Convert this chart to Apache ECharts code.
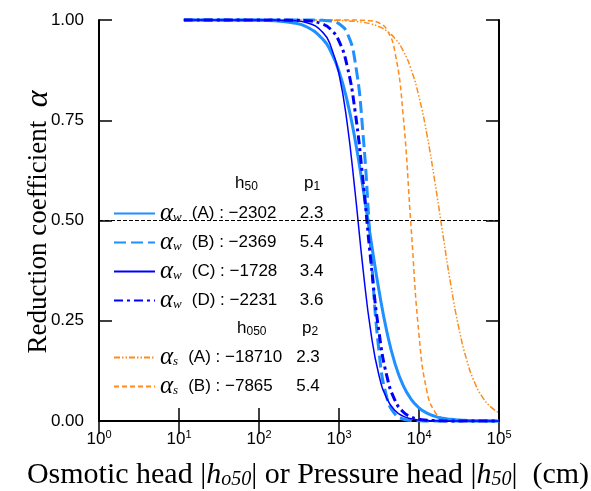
<!DOCTYPE html>
<html>
<head>
<meta charset="utf-8">
<script src="https://cdn.jsdelivr.net/npm/echarts@6/dist/echarts.min.js"></script>
<style>
  html, body { margin: 0; padding: 0; background: #fff; }
  #container { width: 591px; height: 491px; }
</style>
</head>
<body>
<div id="container"></div>
<script>
// 横轴: 水头 |h| (cm)
var heads = [11.5, 100, 158, 251, 398, 631, 794, 1000, 1259, 1585, 1995, 2512, 3162, 3981,
  5012, 6310, 7943, 10000, 12589, 15849, 19953, 25119, 31623, 39811, 50119, 63096, 79433, 100000];

// 各曲线 α 值
var alphaWA = [1.0000, 0.9993, 0.9979, 0.9939, 0.9826, 0.9516, 0.9204, 0.8719, 0.8004, 0.7024, 0.5816, 0.4500, 0.3252, 0.2210,
  0.1432, 0.0896, 0.0548, 0.0330, 0.0197, 0.0117, 0.0069, 0.0041, 0.0024, 0.0014, 0.0008, 0.0005, 0.0003, 0.0002];
var alphaWB = [1, 1, 1, 1, 0.9999, 0.9992, 0.9973, 0.9906, 0.9682, 0.8977, 0.7166, 0.4217, 0.1738, 0.0572,
  0.0172, 0.0050, 0.0015, 0.0004, 0.0001, 0, 0, 0, 0, 0, 0, 0, 0, 0];
var alphaWC = [1, 0.9999, 0.9997, 0.9986, 0.9932, 0.9685, 0.9335, 0.8652, 0.7458, 0.5729, 0.3801, 0.2189, 0.1135, 0.0553,
  0.0261, 0.0121, 0.0056, 0.0026, 0.0012, 0.0005, 0.0002, 0.0001, 0, 0, 0, 0, 0, 0];
var alphaWD = [1, 1, 0.9999, 0.9996, 0.9980, 0.9895, 0.9763, 0.9473, 0.8870, 0.7740, 0.5992, 0.3949, 0.2217, 0.1106,
  0.0515, 0.0231, 0.0102, 0.0045, 0.0020, 0.0009, 0.0004, 0.0002, 0.0001, 0, 0, 0, 0, 0];
var alphaSA = [1, 1, 1, 1, 0.9999, 0.9996, 0.9993, 0.9988, 0.9980, 0.9966, 0.9942, 0.9902, 0.9835, 0.9723,
  0.9539, 0.9242, 0.8777, 0.8087, 0.7134, 0.5944, 0.4632, 0.3369, 0.2303, 0.1498, 0.0940, 0.0576, 0.0347, 0.0207];
var alphaSB = [1, 1, 1, 1, 1, 1, 1, 1, 1, 0.9998, 0.9994, 0.9979, 0.9928, 0.9753,
  0.9194, 0.7668, 0.4866, 0.2147, 0.0731, 0.0222, 0.0065, 0.0019, 0.0005, 0.0002, 0, 0, 0, 0];

// 图例文字
var seriesNames = ['wA', 'wB', 'wC', 'wD', 'sA', 'sB'];
var legendSub = ['w', 'w', 'w', 'w', 's', 's'];
var legendCase = ['(A) : −2302', '(B) : −2369', '(C) : −1728', '(D) : −2231', '(A) : −18710', '(B) : −7865'];
var legendP = ['2.3', '5.4', '3.4', '3.6', '2.3', '5.4'];

var yTicks = [0, 0.25, 0.5, 0.75, 1];
var refLine = 0.5;

var dom = document.getElementById('container');
var myChart = echarts.init(dom);

var BLUE_L = '#1e90ff';
var BLUE = '#0000ff';
var ORANGE = '#ff8c1a';

function pairs(arr) {
    return heads.map(function (h, i) { return [h, arr[i]]; });
}

function lineSeries(name, data, color, width, type) {
    return {
        name: name,
        type: 'line',
        data: pairs(data),
        symbol: 'none',
        smooth: 0.5,
        clip: false,
        lineStyle: { color: color, width: width, type: type },
        itemStyle: { color: color }
    };
}

var legendRich = {
    al: { fontFamily: 'Liberation Serif', fontStyle: 'italic', fontSize: 25, color: '#000', lineHeight: 22 },
    sub: { fontFamily: 'Liberation Serif', fontStyle: 'italic', fontSize: 13, color: '#000', padding: [9, 0, 0, 0], lineHeight: 22 },
    nm: { fontFamily: 'Liberation Sans', fontSize: 17, color: '#000', width: 108, padding: [0, 0, 0, 10], lineHeight: 22 },
    pv: { fontFamily: 'Liberation Sans', fontSize: 17, color: '#000', lineHeight: 22 }
};

function legendFmt(name) {
    var i = seriesNames.indexOf(name);
    return '{al|α}{sub|' + legendSub[i] + '}{nm|' + legendCase[i] + '}{pv|' + legendP[i] + '}';
}

function baseLegend(data, top) {
    return {
        data: data,
        orient: 'vertical',
        left: 108,
        top: top,
        itemWidth: 41,
        itemHeight: 14,
        itemGap: 4,
        selectedMode: false,
        itemStyle: { opacity: 0 },
        formatter: legendFmt,
        textStyle: { rich: legendRich }
    };
}

var headRich = {
    s: { fontFamily: 'Liberation Sans', fontSize: 12, color: '#000', padding: [8, 0, 0, 0] }
};

option = {
    animation: false,
    grid: { left: 99, right: 92, top: 20, bottom: 70 },
    legend: [
        baseLegend(['wA', 'wB', 'wC', 'wD'], 196),
        baseLegend(['sA', 'sB'], 340)
    ],
    xAxis: [
        {
            type: 'log', logBase: 10, min: 1, max: 100000, position: 'bottom',
            axisLine: { show: true, lineStyle: { color: '#000', width: 2 } },
            axisTick: { show: true, inside: true, length: 13, lineStyle: { color: '#000', width: 1.5 } },
            splitLine: { show: false },
            minorTick: { show: false },
            axisLabel: {
                margin: 8,
                formatter: function (v) {
                    return '10{sup|' + Math.round(Math.log10(v)) + '}';
                },
                fontFamily: 'Liberation Sans', fontSize: 17, color: '#000',
                rich: { sup: { fontFamily: 'Liberation Sans', fontSize: 11, color: '#000', padding: [0, 0, 9, 0] } }
            }
        },
        {
            type: 'log', logBase: 10, min: 1, max: 100000, position: 'top',
            axisLine: { show: true, lineStyle: { color: '#000', width: 2 } },
            axisTick: { show: true, inside: true, length: 13, lineStyle: { color: '#000', width: 1.5 } },
            splitLine: { show: false },
            axisLabel: { show: false }
        }
    ],
    yAxis: [
        {
            type: 'value', min: 0, max: 1, interval: 0.25, position: 'left',
            axisLine: { show: true, lineStyle: { color: '#000', width: 2 } },
            axisTick: { show: true, inside: true, length: 13, lineStyle: { color: '#000', width: 1.5 } },
            splitLine: { show: false },
            axisLabel: {
                margin: 15,
                formatter: function (v) { return v.toFixed(2); },
                fontFamily: 'Liberation Sans', fontSize: 17, color: '#000'
            }
        },
        {
            type: 'value', min: 0, max: 1, interval: 0.25, position: 'right',
            axisLine: { show: true, lineStyle: { color: '#000', width: 2 } },
            axisTick: { show: true, inside: true, length: 13, lineStyle: { color: '#000', width: 1.5 } },
            splitLine: { show: false },
            axisLabel: { show: false }
        }
    ],
    graphic: [
        {   // y 轴标题
            type: 'text', x: 39, y: 222, rotation: Math.PI / 2,
            style: {
                text: 'Reduction coefficient  {al|α}',
                font: '27px "Liberation Serif"', fill: '#000',
                textAlign: 'center', textVerticalAlign: 'middle',
                rich: { al: { fontFamily: 'Liberation Serif', fontStyle: 'italic', fontSize: 32, fill: '#000' } }
            }
        },
        {   // x 轴标题
            type: 'text', x: 308, y: 475,
            style: {
                text: 'Osmotic head |{i|h}{s|o50}| or Pressure head |{i|h}{s|50}|  (cm)',
                font: '30px "Liberation Serif"', fill: '#000',
                textAlign: 'center', textVerticalAlign: 'middle',
                rich: {
                    i: { fontFamily: 'Liberation Serif', fontStyle: 'italic', fontSize: 30, fill: '#000' },
                    s: { fontFamily: 'Liberation Serif', fontStyle: 'italic', fontSize: 20, fill: '#000', padding: [9, 0, 0, 0] }
                }
            }
        },
        {
            type: 'text', x: 235, y: 183,
            style: { text: 'h{s|50}', font: '17px "Liberation Sans"', fill: '#000', textVerticalAlign: 'middle', rich: headRich }
        },
        {
            type: 'text', x: 304, y: 183,
            style: { text: 'p{s|1}', font: '17px "Liberation Sans"', fill: '#000', textVerticalAlign: 'middle', rich: headRich }
        },
        {
            type: 'text', x: 237, y: 328,
            style: { text: 'h{s|050}', font: '17px "Liberation Sans"', fill: '#000', textVerticalAlign: 'middle', rich: headRich }
        },
        {
            type: 'text', x: 302, y: 328,
            style: { text: 'p{s|2}', font: '17px "Liberation Sans"', fill: '#000', textVerticalAlign: 'middle', rich: headRich }
        }
    ],
    series: [
        lineSeries('sA', alphaSA, ORANGE, 1.5, [6, 2, 1.5, 2, 1.5, 2]),
        lineSeries('sB', alphaSB, ORANGE, 1.5, [5, 3]),
        lineSeries('wA', alphaWA, BLUE_L, 3, 'solid'),
        lineSeries('wB', alphaWB, BLUE_L, 3, [12, 5]),
        lineSeries('wC', alphaWC, BLUE, 1.5, 'solid'),
        lineSeries('wD', alphaWD, BLUE, 3, [9, 4, 3, 4])
    ]
};

// 0.5 参考虚线
option.series[2].markLine = {
    silent: true,
    symbol: ['none', 'none'],
    label: { show: false },
    lineStyle: { color: '#000', width: 1, type: [4, 2] },
    data: [{ yAxis: refLine }]
};

if (option && typeof option === 'object') {
    myChart.setOption(option, true);
}
</script>
</body>
</html>
